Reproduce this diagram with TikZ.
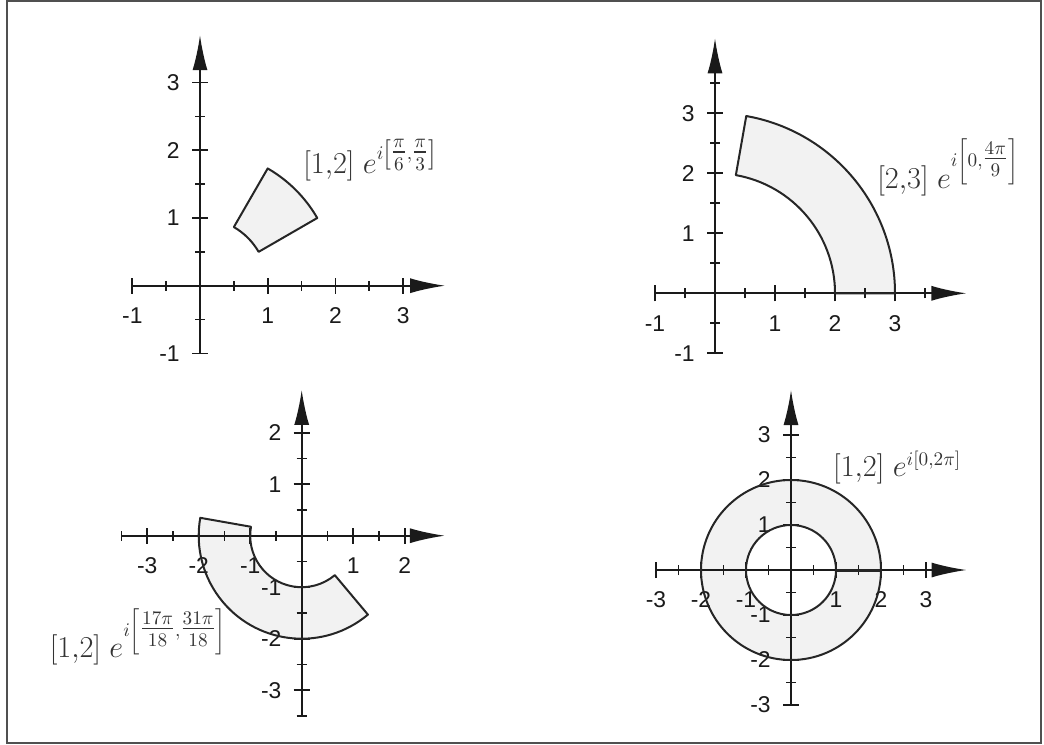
\documentclass[tikz,border=0pt]{standalone}
\usepackage{fontspec}
\usepackage{amsmath}
\usepackage{xcolor}
\usepackage{tikz}
\usetikzlibrary{arrows.meta}
\newfontfamily\ticksf{Liberation Sans}
\definecolor{AxisBlack}{HTML}{1A1A1A}
\definecolor{RegionFill}{HTML}{F2F2F2}
\definecolor{RegionLine}{HTML}{262626}
\definecolor{LabelGray}{HTML}{333333}
\definecolor{FrameGray}{HTML}{505050}

\begin{document}
\begin{tikzpicture}[
        axis/.style={AxisBlack, line width=0.035cm, -{Latex[length=0.7cm, width=0.3cm]}},
        majortick/.style={AxisBlack, line width=0.035cm},
        minortick/.style={AxisBlack, line width=0.035cm},
        xlab/.style={font=\ticksf\fontsize{13}{15}\selectfont, text=AxisBlack, inner sep=0pt, yshift=-0.6cm},
        ylab/.style={font=\ticksf\fontsize{13}{15}\selectfont, text=AxisBlack, inner sep=0pt, anchor=east, xshift=-0.4cm},
        region/.style={fill=RegionFill},
        rim/.style={draw=RegionLine, line width=0.04cm, line join=round},
        formula/.style={text=LabelGray, font=\fontsize{16}{19}\selectfont, inner sep=0pt}]

    \useasboundingbox (0,0) rectangle (20.88,14.88);
    \draw[FrameGray, line width=0.03cm] (0.14,0.02) rectangle (20.82,14.86);

    % top left: [1,2] e^{i[pi/6,pi/3]}
    \begin{scope}[shift={(4cm,9.166cm)}, x=1.354cm, y=1.354cm]
        \fill[region] (30:1) arc[start angle=30, end angle=60, radius=1] -- (60:2)
            arc[start angle=60, end angle=30, radius=2] -- cycle;
        \draw[axis] (-1,0) -- (3.62,0);
        \draw[axis] (0,-1) -- (0,3.70);
        \foreach \v in {-1,0,1,2,3} {
            \draw[majortick] (\v,0) ++(0,-0.16cm) -- ++(0,0.32cm);
            \draw[majortick] (0,\v) ++(-0.16cm,0) -- ++(0.32cm,0);
        }
        \foreach \v in {-0.5,0.5,1.5,2.5} {
            \draw[minortick] (\v,0) ++(0,-0.1cm) -- ++(0,0.2cm);
            \draw[minortick] (0,\v) ++(-0.1cm,0) -- ++(0.2cm,0);
        }
        \foreach \v [count=\k] in {-1,1,2,3} {
            \node[xlab] (ax\k) at (\v,0) {\v};
            \node[ylab] (ay\k) at (0,\v) {\v};
        }
        \draw[rim] (30:1) arc[start angle=30, end angle=60, radius=1] -- (60:2)
            arc[start angle=60, end angle=30, radius=2] -- cycle;
        \node[formula, anchor=base west] (f1) at (1.52,1.66)
            {$[1{,}2]\; e^{i\left[\tfrac{\pi}{6},\tfrac{\pi}{3}\right]}$};
    \end{scope}

    % top right: [2,3] e^{i[0,4pi/9]}
    \begin{scope}[shift={(14.30cm,9.014cm)}, x=1.2cm, y=1.2cm]
        \fill[region] (0:2) arc[start angle=0, end angle=80, radius=2] -- (80:3)
            arc[start angle=80, end angle=0, radius=3] -- cycle;
        \draw[axis] (-1,0) -- (4.19,0);
        \draw[axis] (0,-1) -- (0,4.25);
        \foreach \v in {-1,0,1,2,3} {
            \draw[majortick] (\v,0) ++(0,-0.16cm) -- ++(0,0.32cm);
            \draw[majortick] (0,\v) ++(-0.16cm,0) -- ++(0.32cm,0);
        }
        \foreach \v in {-0.5,0.5,1.5,2.5,3.5} {
            \draw[minortick] (\v,0) ++(0,-0.1cm) -- ++(0,0.2cm);
            \draw[minortick] (0,\v) ++(-0.1cm,0) -- ++(0.2cm,0);
        }
        \foreach \v [count=\k] in {-1,1,2,3} {
            \node[xlab] (bx\k) at (\v,0) {\v};
            \node[ylab] (by\k) at (0,\v) {\v};
        }
        \draw[rim] (0:2) arc[start angle=0, end angle=80, radius=2] -- (80:3)
            arc[start angle=80, end angle=0, radius=3] -- cycle;
        \node[formula, anchor=base west] (f2) at (2.70,1.755)
            {$[2{,}3]\; e^{i\left[0,\tfrac{4\pi}{9}\right]}$};
    \end{scope}

    % bottom left: [1,2] e^{i[17pi/18,31pi/18]}
    \begin{scope}[shift={(6.034cm,4.166cm)}, x=1.03cm, y=1.03cm]
        \fill[region] (170:1) arc[start angle=170, end angle=310, radius=1] -- (310:2)
            arc[start angle=310, end angle=170, radius=2] -- cycle;
        \draw[axis] (-3.5,0) -- (2.78,0);
        \draw[axis] (0,-3.5) -- (0,2.83);
        \foreach \v in {-3,-2,-1,0,1,2} {
            \draw[majortick] (\v,0) ++(0,-0.16cm) -- ++(0,0.32cm);
            \draw[majortick] (0,\v) ++(-0.16cm,0) -- ++(0.32cm,0);
        }
        \foreach \v in {-3.5,-2.5,-1.5,-0.5,0.5,1.5} {
            \draw[minortick] (\v,0) ++(0,-0.1cm) -- ++(0,0.2cm);
            \draw[minortick] (0,\v) ++(-0.1cm,0) -- ++(0.2cm,0);
        }
        \foreach \v [count=\k] in {-3,-2,-1,1,2} {
            \node[xlab] (cx\k) at (\v,0) {\v};
            \node[ylab] (cy\k) at (0,\v) {\v};
        }
        \draw[rim] (170:1) arc[start angle=170, end angle=310, radius=1] -- (310:2)
            arc[start angle=310, end angle=170, radius=2] -- cycle;
        \node[formula, anchor=base east] (f3) at (-1.45,-2.37)
            {$[1{,}2]\; e^{i\left[\tfrac{17\pi}{18},\tfrac{31\pi}{18}\right]}$};
    \end{scope}

    % bottom right: [1,2] e^{i[0,2pi]}
    \begin{scope}[shift={(15.82cm,3.48cm)}, x=0.9cm, y=0.9cm]
        \fill[region, even odd rule] (0,0) circle[radius=2] (0,0) circle[radius=1];
        \draw[axis] (-3,0) -- (3.9,0);
        \draw[axis] (0,-3) -- (0,4.0);
        \foreach \v in {-3,-2,-1,0,1,2,3} {
            \draw[majortick] (\v,0) ++(0,-0.16cm) -- ++(0,0.32cm);
            \draw[majortick] (0,\v) ++(-0.16cm,0) -- ++(0.32cm,0);
        }
        \foreach \v in {-2.5,-1.5,-0.5,0.5,1.5,2.5} {
            \draw[minortick] (\v,0) ++(0,-0.1cm) -- ++(0,0.2cm);
            \draw[minortick] (0,\v) ++(-0.1cm,0) -- ++(0.2cm,0);
        }
        \foreach \v [count=\k] in {-3,-2,-1,1,2,3} {
            \node[xlab] (dx\k) at (\v,0) {\v};
            \node[ylab] (dy\k) at (0,\v) {\v};
        }
        \draw[rim] (0,0) circle[radius=2] (0,0) circle[radius=1];
        \draw[rim, line width=0.06cm] (1,0) -- (2,0);
        \node[formula, anchor=base west] (f4) at (0.93,2.07)
            {$[1{,}2]\; e^{i[0,2\pi]}$};
    \end{scope}
\end{tikzpicture}
\end{document}
